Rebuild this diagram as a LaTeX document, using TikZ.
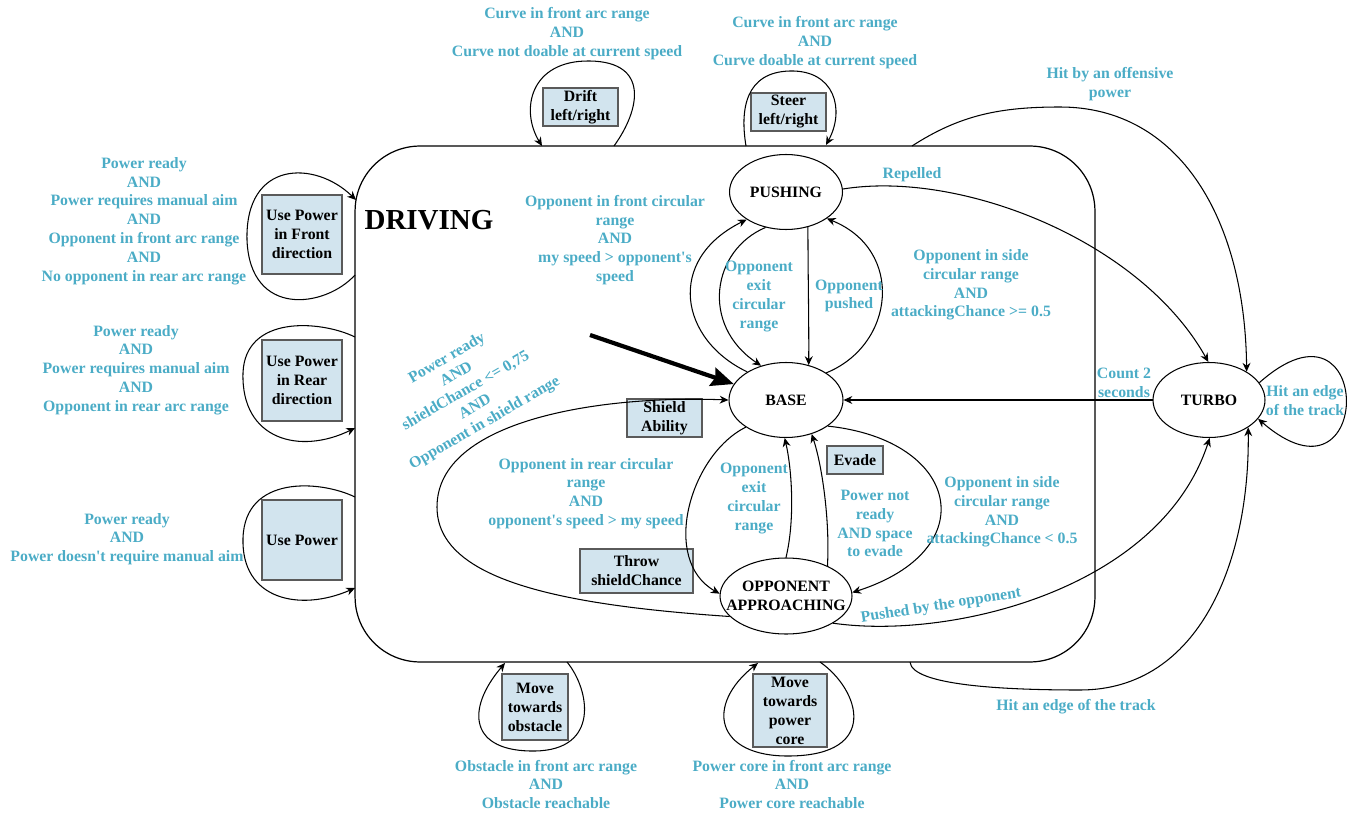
\documentclass[tikz,border=0pt]{standalone}
\usepackage{fontspec}
\setmainfont{Liberation Serif}
\usetikzlibrary{shapes.geometric,arrows.meta}
\definecolor{lblcol}{RGB}{75,172,198}
\definecolor{boxfill}{RGB}{210,228,238}
\definecolor{boxline}{RGB}{90,90,90}
\begin{document}
\begin{tikzpicture}[x=0.02cm,y=-0.02cm,
  lbl/.style={text=lblcol, font=\fontsize{9}{10.7}\selectfont\bfseries, align=center, inner sep=0pt},
  fsm/.style={draw, ellipse, line width=0.6pt, inner sep=0pt, minimum height=1.5cm},
  fsmtext/.style={font=\fontsize{9}{10.7}\selectfont\bfseries, align=center, inner sep=0pt},
  action/.style={draw=boxline, fill=boxfill, line width=0.8pt, inner sep=0pt, align=center, font=\fontsize{9}{10.8}\selectfont\bfseries},
  arr/.style={-{Stealth[length=5pt,width=4.5pt]}, line width=0.6pt},
  link/.style={line width=0.6pt}]
\useasboundingbox (0,0) rectangle (1355,814);

% composite state
\node[draw, line width=0.7pt, rounded corners=1.3cm, minimum width=14.8cm, minimum height=10.32cm] (driving) at (725,404) {};
\node[font=\fontsize{16.5}{18}\selectfont\bfseries, inner sep=0pt] (drivingtitle) at (429,220) {DRIVING};

% states
\node[fsm, minimum width=2.26cm, label={[fsmtext]center:PUSHING}] (push) at (786,192) {};
\node[fsm, minimum width=2.28cm, label={[fsmtext]center:BASE}] (base) at (786,400) {};
\node[fsm, minimum width=2.64cm, minimum height=1.52cm, label={[fsmtext]center:OPPONENT\\APPROACHING}] (opp) at (786,596) {};
\node[fsm, minimum width=2.24cm, label={[fsmtext]center:TURBO}] (turbo) at (1209,400) {};

% actions
\node[action, minimum width=1.6cm, minimum height=1.58cm] (upfront) at (302,234.5) {Use Power\\in Front\\direction};
\node[action, minimum width=1.6cm, minimum height=1.62cm] (uprear) at (302,380.5) {Use Power\\in Rear\\direction};
\node[action, minimum width=1.6cm, minimum height=1.6cm] (upany) at (302,540) {Use Power};
\node[action, minimum width=1.5cm, minimum height=0.76cm] (drift) at (580.5,107) {Drift\\left/right};
\node[action, minimum width=1.5cm, minimum height=0.76cm] (steer) at (788.5,112) {Steer\\left/right};
\node[action, minimum width=1.5cm, minimum height=0.76cm] (shield) at (664.5,418) {Shield\\Ability};
\node[action, minimum width=2.26cm, minimum height=0.88cm] (throw) at (636.5,571) {Throw\\shieldChance};
\node[action, minimum width=1.12cm, minimum height=0.56cm] (evade) at (855,460) {Evade};
\node[action, minimum width=1.32cm, minimum height=1.32cm] (mobst) at (535,707) {Move\\towards\\obstacle};
\node[action, minimum width=1.48cm, minimum height=1.46cm] (mcore) at (790,710.5) {Move\\towards\\power\\core};

% points on the border of DRIVING
\coordinate (fOut) at (355,275);  \coordinate (fIn) at (356,200);
\coordinate (rOut) at (355,337);  \coordinate (rIn) at (355,428);
\coordinate (uOut) at (355,497);  \coordinate (uIn) at (355,588);
\coordinate (dOut) at (614,146);  \coordinate (dIn) at (542,146);
\coordinate (sOut) at (746,146);  \coordinate (sIn) at (826,145);
\coordinate (oOut) at (567,662);  \coordinate (oIn) at (505,663);
\coordinate (cOut) at (820,662);  \coordinate (cIn) at (758,663);
\coordinate (hitOut) at (912,146);
\coordinate (edgeOut) at (910,662);
\coordinate (init) at (590,335);

% initial transition
\draw[line width=2.4pt, -{Stealth[length=0.45cm,width=0.38cm,inset=0.06cm]}] (init) -- (base.163);

% self loops of DRIVING
\draw[arr] (fOut) .. controls (325,308) and (250,318) .. (247,240) .. controls (245,160) and (315,160) .. (fIn);
\draw[arr] (rOut) .. controls (320,320) and (245,315) .. (243,373) .. controls (241,440) and (300,455) .. (rIn);
\draw[arr] (uOut) .. controls (320,480) and (245,475) .. (243,538) .. controls (241,600) and (300,612) .. (uIn);
\draw[arr] (dOut) .. controls (640,110) and (650,62) .. (590,61) .. controls (530,60) and (520,110) .. (dIn);
\draw[arr] (sOut) .. controls (740,110) and (745,72) .. (790,71) .. controls (835,70) and (845,110) .. (sIn);
\draw[arr] (oOut) .. controls (590,690) and (600,750) .. (535,751) .. controls (470,752) and (465,710) .. (oIn);
\draw[arr] (cOut) .. controls (860,690) and (880,755) .. (790,756) .. controls (715,757) and (705,705) .. (cIn);

% transitions between BASE and PUSHING
\draw[arr] (base.144) .. controls (680,340) and (665,260) .. (push.215);
\draw[arr] (push.240) .. controls (712,250) and (700,325) .. (base.126);
\draw[arr] (push.302) .. controls (808,280) and (809,320) .. (base.57);
\draw[arr] (base.34) .. controls (895,345) and (905,250) .. (push.327);

% transitions between BASE and OPPONENT APPROACHING
\draw[arr] (base.214) .. controls (690,455) and (660,560) .. (opp.178);
\draw[arr] (opp.90) .. controls (795,520) and (792,470) .. (base.268);
\draw[arr] (opp.36) .. controls (830,520) and (822,465) .. (base.307);
\draw[arr] (base.328) .. controls (960,440) and (985,550) .. (opp.3);
\draw[arr] (opp.200) .. controls (560,605) and (437,580) .. (437,507) .. controls (437,420) and (600,395) .. (base.180);

% transitions involving TURBO
\draw[arr] (push.3) .. controls (960,170) and (1140,240) .. (turbo.91);
\draw[arr] (hitOut) .. controls (960,115) and (1000,107) .. (1060,107) .. controls (1180,107) and (1245,220) .. (turbo.37);
\draw[arr] (turbo.180) -- (base.0);
\draw[arr] (turbo.19) .. controls (1375,280) and (1375,520) .. (turbo.339);
\draw[arr] (opp.330) .. controls (950,640) and (1160,590) .. (turbo.271);
\draw[arr] (edgeOut) .. controls (912,685) and (1000,690) .. (1080,690) .. controls (1200,690) and (1250,560) .. (turbo.325);

% guards
\node[lbl] (gfront) at (144,221) {Power ready\\AND\\Power requires manual aim\\AND\\Opponent in front arc range\\AND\\No opponent in rear arc range};
\node[lbl] (grear) at (136,370) {Power ready\\AND\\Power requires manual aim\\AND\\Opponent in rear arc range};
\node[lbl] (gany) at (127,539) {Power ready\\AND\\Power doesn\textquotesingle t require manual aim};
\node[lbl] (gdrift) at (567,33.5) {Curve in front arc range\\AND\\Curve not doable at current speed};
\node[lbl] (gsteer) at (815,42.5) {Curve in front arc range\\AND\\Curve doable at current speed};
\node[lbl] (ghit) at (1110,84.5) {Hit by an offensive\\power};
\node[lbl] (grepel) at (912,175) {Repelled};
\node[lbl] (gfrontc) at (615,240) {Opponent in front circular\\range\\AND\\my speed > opponent\textquotesingle s\\speed};
\node[lbl] (gexit1) at (759,296.5) {Opponent\\exit\\circular\\range};
\node[lbl] (gpushed) at (849,296) {Opponent\\pushed};
\node[lbl] (gsidehi) at (971,285) {Opponent in side\\circular range\\AND\\attackingChance >= 0.5};
\node[lbl] (gcount) at (1124,382.5) {Count 2\\seconds};
\node[lbl] (gedge1) at (1305,400.5) {Hit an edge\\of the track};
\node[lbl, rotate=30] (gshield) at (466,391) {Power ready\\AND\\shieldChance <= 0,75\\AND\\Opponent in shield range};
\node[lbl] (grearc) at (586,493.5) {Opponent in rear circular\\range\\AND\\opponent\textquotesingle s speed > my speed};
\node[lbl] (gexit2) at (754,498.5) {Opponent\\exit\\circular\\range};
\node[lbl] (gevade) at (875,523.5) {Power not\\ready\\AND space\\to evade};
\node[lbl] (gsidelo) at (1002,512) {Opponent in side\\circular range\\AND\\attackingChance < 0.5};
\node[lbl, rotate=9] (gpushedby) at (941,606) {Pushed by the opponent};
\node[lbl] (gedge2) at (1076,707) {Hit an edge of the track};
\node[lbl] (gobst) at (546,784.5) {Obstacle in front arc range\\AND\\Obstacle reachable};
\node[lbl] (gcore) at (792,784.5) {Power core in front arc range\\AND\\Power core reachable};
\end{tikzpicture}
\end{document}
